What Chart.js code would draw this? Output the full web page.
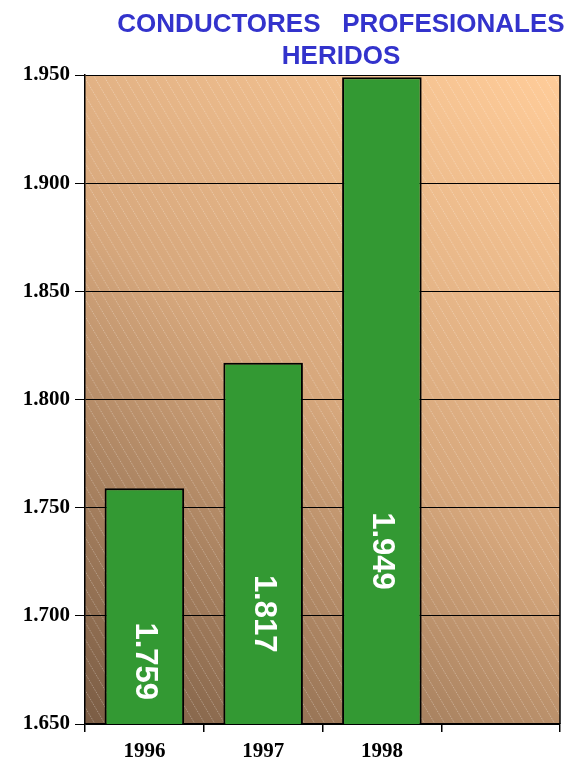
<!DOCTYPE html>
<html>
<head>
<meta charset="utf-8">
<script src="https://cdn.jsdelivr.net/npm/chart.js@4/dist/chart.umd.min.js"></script>
<style>
    html, body { margin: 0; padding: 0; background: #fff; }
    #wrap { width: 576px; height: 763px; position: relative; }
</style>
</head>
<body>
<div id="wrap"><canvas id="heridosChart"></canvas></div>
<script>
// data
const years = ['1996', '1997', '1998', ''];
const heridos = [1759, 1817, 1949, null];
// where the value labels sit inside each bar (value units)
const labelAnchor = [1679, 1701, 1730];
const yMin = 1650;
const yMax = 1950;
const yStep = 50;
const titleLines = ['CONDUCTORES   PROFESIONALES', 'HERIDOS'];

function fmt(n) {
    return String(n).replace(/\B(?=(\d{3})+(?!\d))/g, '.');
}

const serifBold = { family: '"Liberation Serif", "Times New Roman", serif', weight: 'bold', size: 21 };

// plot area: brown-to-peach gradient with light diagonal hatching
const plotBackground = {
    id: 'plotBackground',
    beforeDraw(chart) {
        const { ctx, chartArea: a } = chart;
        ctx.save();
        const g = ctx.createLinearGradient(a.left, a.bottom, a.right, a.top);
        g.addColorStop(0, '#7a5c44');
        g.addColorStop(0.5, '#d6a77c');
        g.addColorStop(1, '#ffcc99');
        ctx.fillStyle = g;
        ctx.fillRect(a.left, a.top, a.right - a.left, a.bottom - a.top);

        ctx.beginPath();
        ctx.rect(a.left, a.top, a.right - a.left, a.bottom - a.top);
        ctx.clip();
        ctx.strokeStyle = 'rgba(255,255,255,0.35)';
        ctx.lineWidth = 1;
        ctx.setLineDash([1, 1]);
        const h = a.bottom - a.top;
        const dx = h / 1.7;
        for (let x = a.left - dx; x < a.right + 10; x += 10) {
            ctx.beginPath();
            ctx.moveTo(x, a.top);
            ctx.lineTo(x + dx, a.bottom);
            ctx.stroke();
        }
        ctx.restore();
    },
    afterDraw(chart) {
        const { ctx, chartArea: a } = chart;
        ctx.save();
        ctx.strokeStyle = '#000';
        ctx.lineWidth = 1.5;
        ctx.beginPath();
        ctx.moveTo(a.right, a.top);
        ctx.lineTo(a.right, a.bottom);
        ctx.stroke();

        // title
        ctx.fillStyle = '#3333cc';
        ctx.font = 'bold 26px "Liberation Sans", Arial, sans-serif';
        ctx.textAlign = 'center';
        ctx.textBaseline = 'alphabetic';
        ctx.fillText(titleLines[0], 341, 32);
        ctx.fillText(titleLines[1], 341, 64);
        ctx.restore();
    }
};

// rotated value labels inside the bars
const barLabels = {
    id: 'barLabels',
    afterDatasetsDraw(chart) {
        const { ctx } = chart;
        const yScale = chart.scales.y;
        const meta = chart.getDatasetMeta(0);
        ctx.save();
        ctx.fillStyle = '#fff';
        ctx.font = 'bold 31px "Liberation Sans", Arial, sans-serif';
        ctx.textAlign = 'center';
        ctx.textBaseline = 'middle';
        meta.data.forEach((bar, i) => {
            if (heridos[i] == null) return;
            const y = yScale.getPixelForValue(labelAnchor[i]);
            ctx.save();
            ctx.translate(bar.x, y);
            ctx.rotate(Math.PI / 2);
            ctx.fillText(fmt(heridos[i]), 0, 0);
            ctx.restore();
        });
        ctx.restore();
    }
};

const ctx = document.getElementById('heridosChart');
new Chart(ctx, {
    type: 'bar',
    data: {
        labels: years,
        datasets: [{
            data: heridos,
            backgroundColor: '#339933',
            borderColor: '#000',
            borderWidth: 2,
            borderSkipped: false,
            barPercentage: 0.67,
            categoryPercentage: 1
        }]
    },
    options: {
        responsive: true,
        maintainAspectRatio: false,
        animation: false,
        layout: { padding: { left: 0, right: 16, top: 75, bottom: 0 } },
        plugins: {
            legend: { display: false },
            tooltip: { enabled: false },
            title: { display: false }
        },
        scales: {
            x: {
                grid: { offset: true, drawOnChartArea: false, tickLength: 8, color: '#000', lineWidth: 1.5 },
                border: { color: '#000', width: 1.5 },
                ticks: { font: serifBold, color: '#000', padding: 7 },
                afterFit(s) { s.height = 39; }
            },
            y: {
                min: yMin,
                max: yMax,
                ticks: {
                    stepSize: yStep,
                    font: serifBold,
                    color: '#000',
                    padding: 5,
                    callback: v => fmt(v)
                },
                grid: { color: '#000', lineWidth: 1, tickLength: 10 },
                border: { color: '#000', width: 1.5 },
                afterFit(s) { s.width = 85; }
            }
        }
    },
    plugins: [plotBackground, barLabels]
});
</script>
</body>
</html>
